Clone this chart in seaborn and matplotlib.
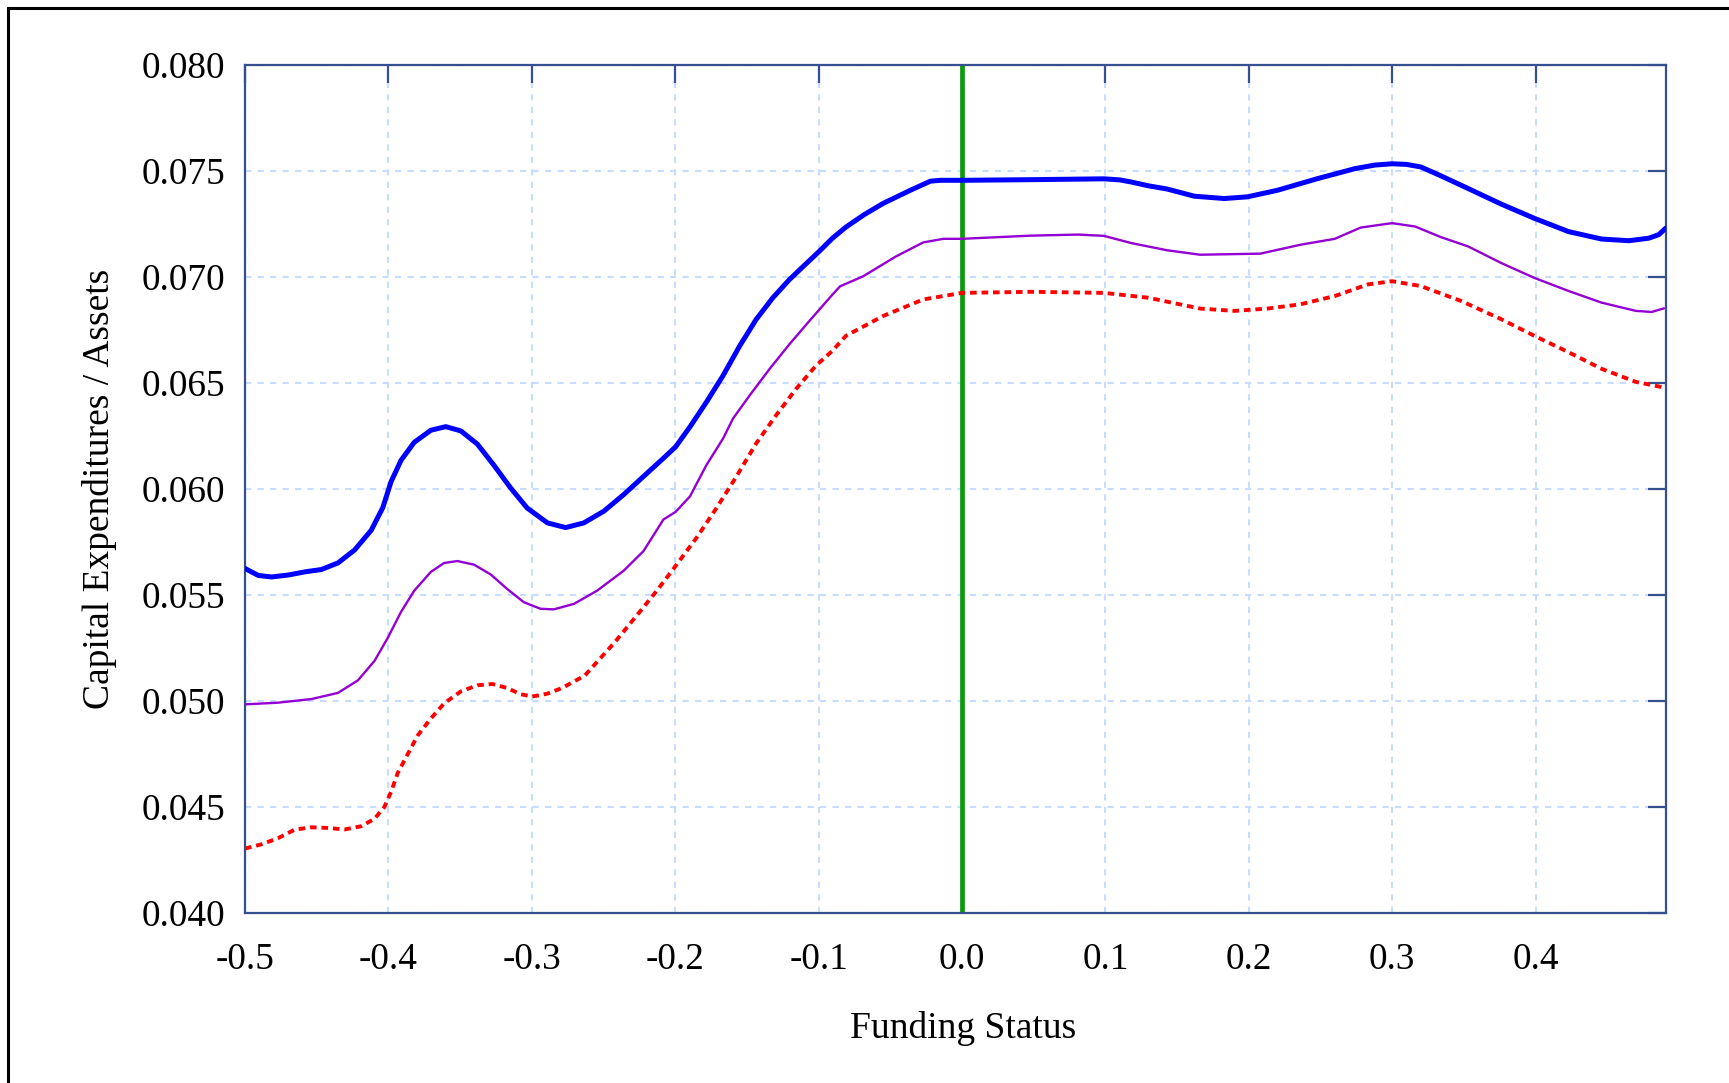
import matplotlib
matplotlib.use("Agg")
import matplotlib.pyplot as plt
import seaborn as sns
import pandas as pd
from matplotlib.patches import Rectangle
from matplotlib.ticker import FuncFormatter

# ---- data ----
blue_x = [-0.5, -0.4907, -0.4815, -0.4699, -0.4583, -0.4468, -0.4352, -0.4236, -0.412,
          -0.4039, -0.3981, -0.3912, -0.382, -0.3704, -0.36, -0.3495, -0.338, -0.3264,
          -0.3148, -0.3032, -0.2891, -0.2764, -0.2637, -0.2498, -0.236, -0.2221, -0.2082,
          -0.1997, -0.1897, -0.1782, -0.1666, -0.155, -0.1435, -0.1319, -0.1203, -0.1088,
          -0.1, -0.0903, -0.081, -0.068, -0.055, -0.036, -0.022, -0.015, 0.0, 0.048,
          0.099, 0.11, 0.118, 0.13, 0.143, 0.162, 0.183, 0.199, 0.22, 0.248, 0.274,
          0.288, 0.3, 0.31, 0.32, 0.333, 0.348, 0.376, 0.399, 0.423, 0.446, 0.465,
          0.479, 0.486, 0.4907]
blue_y = [0.05625, 0.05592, 0.05585, 0.05594, 0.05609, 0.0562, 0.05651, 0.05712, 0.05805,
          0.05912, 0.06035, 0.06135, 0.0622, 0.06277, 0.06294, 0.06274, 0.06212, 0.06112,
          0.06005, 0.0591, 0.0584, 0.05818, 0.0584, 0.05895, 0.05973, 0.06059, 0.06145,
          0.06199, 0.06293, 0.0641, 0.06535, 0.06675, 0.068, 0.06902, 0.06988, 0.07062,
          0.07118, 0.07183, 0.07235, 0.07295, 0.07347, 0.07409, 0.07452, 0.07456, 0.07456,
          0.07459, 0.07463, 0.07458, 0.07448, 0.0743, 0.07415, 0.07381, 0.0737, 0.07378,
          0.07409, 0.07464, 0.07511, 0.07528, 0.07534, 0.07531, 0.07519, 0.0748, 0.07433,
          0.07344, 0.07277, 0.07214, 0.07179, 0.07171, 0.07183, 0.072, 0.0723]

purple_x = [-0.5, -0.4769, -0.4537, -0.4352, -0.4213, -0.4097, -0.4005, -0.3912, -0.382,
            -0.3704, -0.3611, -0.3519, -0.3403, -0.3287, -0.3171, -0.3056, -0.294, -0.2847,
            -0.2706, -0.2545, -0.236, -0.2221, -0.2082, -0.1997, -0.1897, -0.1782, -0.1666,
            -0.1597, -0.1481, -0.1342, -0.1203, -0.1065, -0.0903, -0.085, -0.069, -0.046,
            -0.027, -0.013, 0.0, 0.048, 0.081, 0.099, 0.118, 0.143, 0.166, 0.208, 0.236,
            0.26, 0.278, 0.3, 0.316, 0.334, 0.353, 0.376, 0.399, 0.423, 0.446, 0.47,
            0.481, 0.4895]
purple_y = [0.04984, 0.04992, 0.05009, 0.05038, 0.05097, 0.05189, 0.05297, 0.0542, 0.0552,
            0.05609, 0.05651, 0.0566, 0.05643, 0.05597, 0.05528, 0.05466, 0.05435, 0.05432,
            0.05458, 0.0552, 0.05614, 0.05707, 0.05856, 0.05892, 0.05965, 0.06113, 0.06238,
            0.06332, 0.06441, 0.06566, 0.06683, 0.06792, 0.06917, 0.06956, 0.07003, 0.07097,
            0.07163, 0.0718, 0.0718, 0.07195, 0.072, 0.07194, 0.0716, 0.07126, 0.07105,
            0.0711, 0.07152, 0.0718, 0.07233, 0.07254, 0.07238, 0.07188, 0.07144, 0.07066,
            0.06996, 0.06934, 0.06879, 0.0684, 0.06835, 0.06852]

red_x = [-0.5, -0.4884, -0.4769, -0.4653, -0.4537, -0.4421, -0.4306, -0.419, -0.4097,
         -0.4028, -0.3981, -0.3935, -0.3866, -0.3796, -0.3704, -0.3611, -0.3495, -0.338,
         -0.3275, -0.3171, -0.3079, -0.2998, -0.2894, -0.2789, -0.263, -0.242, -0.2255,
         -0.2128, -0.1997, -0.1851, -0.1712, -0.1573, -0.1435, -0.1296, -0.1157, -0.1018,
         -0.0903, -0.081, -0.055, -0.027, 0.0, 0.048, 0.099, 0.13, 0.166, 0.19, 0.213,
         0.236, 0.26, 0.283, 0.3, 0.32, 0.348, 0.376, 0.399, 0.423, 0.446, 0.47, 0.4907]
red_y = [0.04304, 0.04324, 0.04353, 0.04393, 0.04404, 0.04401, 0.04394, 0.04409, 0.04444,
         0.045, 0.04572, 0.0466, 0.04748, 0.04837, 0.04917, 0.04989, 0.05045, 0.05074,
         0.0508, 0.05061, 0.05032, 0.05021, 0.05034, 0.05061, 0.0512, 0.05278, 0.05414,
         0.0552, 0.05637, 0.0577, 0.0591, 0.06059, 0.06215, 0.06348, 0.06472, 0.06582,
         0.06652, 0.06722, 0.06816, 0.06894, 0.06925, 0.0693, 0.06925, 0.06902, 0.06851,
         0.0684, 0.06851, 0.06871, 0.0691, 0.06965, 0.0698, 0.06957, 0.06887, 0.06801,
         0.06723, 0.06645, 0.06567, 0.06505, 0.06477]

cutoff_x = 0.0
x_ticks = [-0.5, -0.4, -0.3, -0.2, -0.1, 0.0, 0.1, 0.2, 0.3, 0.4]
y_ticks = [0.040, 0.045, 0.050, 0.055, 0.060, 0.065, 0.070, 0.075, 0.080]
x_label = "Funding Status"
y_label = "Capital Expenditures / Assets"

# ---- style ----
sns.set_theme(style="white")
plt.rcParams["font.family"] = ["Liberation Serif", "DejaVu Serif"]

spine_col = "#34508f"
fig = plt.figure(figsize=(17.29, 10.83), dpi=100)
ax = fig.add_axes([0.1417, 0.157, 0.8219, 0.783])

ax.grid(True, color="#c8dcff", linestyle=(0, (3, 3)), linewidth=1.5, zorder=0)
ax.set_axisbelow(True)

ax.axvline(cutoff_x, color="#0d9a0d", linewidth=3.4, zorder=2)

df_b = pd.DataFrame({"x": blue_x, "y": blue_y})
df_p = pd.DataFrame({"x": purple_x, "y": purple_y})
df_r = pd.DataFrame({"x": red_x, "y": red_y})

sns.lineplot(data=df_r, x="x", y="y", ax=ax, color="#ff0000", linewidth=2.8,
             sort=False, estimator=None, zorder=3)
ax.lines[-1].set_dashes((1.7, 1.25))
ax.lines[-1].set_dash_capstyle("butt")
sns.lineplot(data=df_p, x="x", y="y", ax=ax, color="#9400d3", linewidth=1.7,
             sort=False, estimator=None, zorder=4)
sns.lineplot(data=df_b, x="x", y="y", ax=ax, color="#0000ff", linewidth=3.6,
             sort=False, estimator=None, zorder=5)
for ln in ax.lines:
    ln.set_solid_joinstyle("round")

ax.set_xlim(-0.5, 0.491)
ax.set_ylim(0.040, 0.080)
ax.set_xticks(x_ticks)
ax.set_yticks(y_ticks)
ax.xaxis.set_major_formatter(FuncFormatter(lambda v, p: f"{v:.1f}".replace("\u2212", "-")))
ax.yaxis.set_major_formatter(FuncFormatter(lambda v, p: f"{v:.3f}"))

for s in ax.spines.values():
    s.set_visible(True)
    s.set_color(spine_col)
    s.set_linewidth(1.6)

ax.tick_params(axis="both", which="major", direction="in", length=13, width=1.6,
               color=spine_col, labelcolor="black", labelsize=26.8,
               top=True, right=True)
ax.tick_params(axis="x", pad=21)
ax.tick_params(axis="y", pad=14)

ax.set_xlabel(x_label, fontsize=27, color="black", labelpad=25)
ax.set_ylabel(y_label, fontsize=27, color="black", labelpad=18)
ax.xaxis.label.set_x(0.505)

fig.patches.append(Rectangle((0.0046, -0.5), 2.0, 1.4926, transform=fig.transFigure,
                             fill=False, edgecolor="black", linewidth=2.2, zorder=10))

fig.savefig("out.png", dpi=100, facecolor="white")
